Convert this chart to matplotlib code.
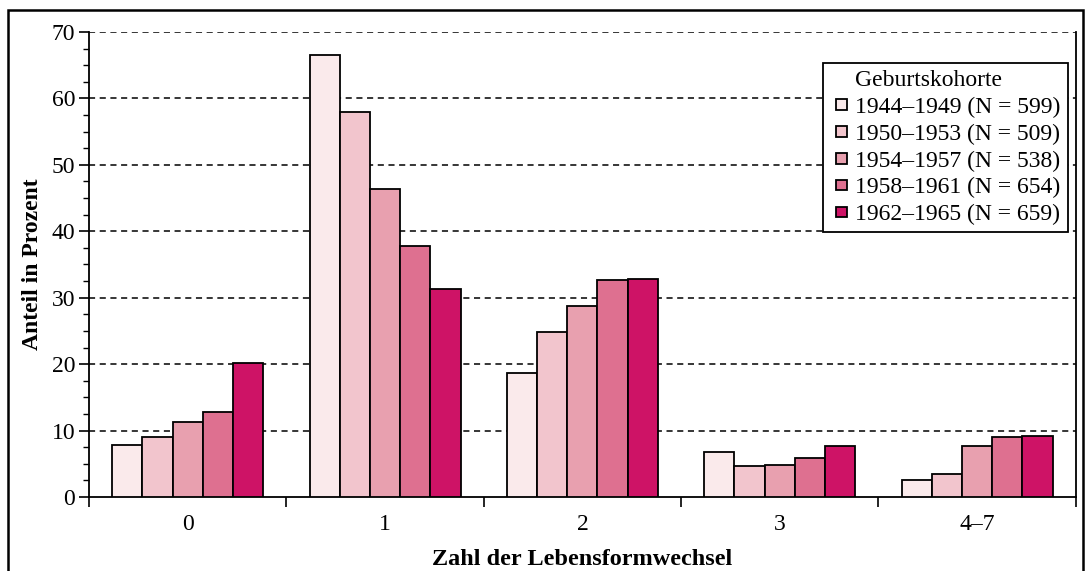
import matplotlib
matplotlib.use("Agg")
import matplotlib.pyplot as plt
import numpy as np
from matplotlib.patches import Rectangle
from matplotlib.legend_handler import HandlerPatch
from matplotlib.ticker import MultipleLocator

plt.rcParams['font.family'] = ['Liberation Serif', 'DejaVu Serif']

categories = ["0", "1", "2", "3", "4\u20137"]
cohorts = ["1944\u20131949 (N = 599)", "1950\u20131953 (N = 509)",
           "1954\u20131957 (N = 538)", "1958\u20131961 (N = 654)",
           "1962\u20131965 (N = 659)"]
v1944 = [7.8, 66.6, 18.7, 6.8, 2.6]
v1950 = [9.1, 58.0, 24.8, 4.6, 3.4]
v1954 = [11.3, 46.4, 28.8, 4.8, 7.7]
v1958 = [12.8, 37.8, 32.7, 5.9, 9.0]
v1962 = [20.2, 31.3, 32.8, 7.7, 9.2]
colors = ["#FAEAEB", "#F2C5CD", "#E8A0AF", "#DE7090", "#CE1366"]

series = [v1944, v1950, v1954, v1958, v1962]

fig = plt.figure(figsize=(10.91, 5.71), dpi=100)
ax = fig.add_axes([0.0816, 0.1296, 0.9044, 0.8144])

x = np.arange(len(categories))
w = 0.153
for i, vals in enumerate(series):
    ax.bar(x + (i - 2) * w, vals, w, color=colors[i], edgecolor="black",
           linewidth=1.3, zorder=3)

ax.set_xlim(-0.5, 4.5)
ax.set_ylim(0, 70)
ax.yaxis.set_major_locator(MultipleLocator(10))
ax.yaxis.set_minor_locator(MultipleLocator(2.5))
ax.set_xticks(np.arange(-0.5, 5.0, 1.0))
ax.set_xticklabels([])
ax.set_xticks(x, minor=True)
ax.set_xticklabels(categories, minor=True)
ax.tick_params(axis="x", which="major", direction="out", length=7, width=1.2)
ax.tick_params(axis="x", which="minor", length=0, pad=12, labelsize=17)
ax.tick_params(axis="y", which="major", direction="out", length=7, width=1.2, labelsize=17, pad=3)
ax.tick_params(axis="y", which="minor", direction="out", length=4, width=1.0)

for yv in range(10, 71, 10):
    ax.axhline(yv, color="black", linestyle=(0, (4, 3)), linewidth=1.1, zorder=1)

ax.spines["top"].set_visible(False)
for s in ["left", "right", "bottom"]:
    ax.spines[s].set_linewidth(1.3)

ax.set_ylabel("Anteil in Prozent", fontsize=17, fontweight="bold", labelpad=6)
ax.set_xlabel("Zahl der Lebensformwechsel", fontsize=17.5, fontweight="bold", labelpad=10)


def small_square(legend, orig_handle, xdescent, ydescent, width, height, fontsize):
    # small square pushed to the right of the handle box
    s = 0.45 * fontsize
    return Rectangle((-xdescent + width - s, -ydescent + (height - s) / 2), s, s)


# title as first legend row so it lines up with the entry texts
proxies = [Rectangle((0, 0), 1, 1, facecolor=c, edgecolor="black", linewidth=1.3) for c in colors]
title_handle = Rectangle((0, 0), 1, 1, fill=False, edgecolor="none", visible=False)
hmap = {p: HandlerPatch(patch_func=small_square) for p in proxies}
leg = ax.legend([title_handle] + proxies, ["Geburtskohorte"] + cohorts,
                handler_map=hmap,
                loc="upper right", bbox_to_anchor=(0.992, 0.933),
                fontsize=17, fancybox=False, edgecolor="black", framealpha=1,
                handlelength=0.7, handleheight=0.45, handletextpad=0.35,
                labelspacing=0.24, borderpad=0.3, borderaxespad=0)
leg.get_frame().set_linewidth(1.3)

fig.patches.append(Rectangle((8 / 1091, -0.05), 1075 / 1091, 1.05 - 10 / 571,
                             transform=fig.transFigure, fill=False,
                             edgecolor="black", linewidth=1.8))

fig.savefig("out.png", dpi=100)
